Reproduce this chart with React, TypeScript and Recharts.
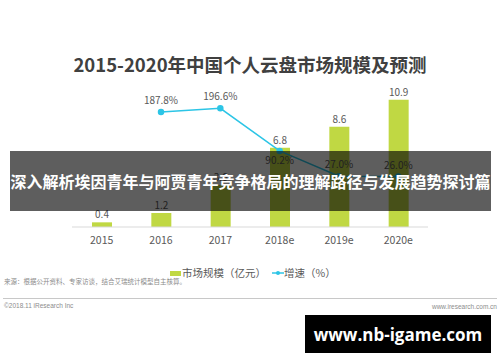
import React from 'react'
import {
  ComposedChart,
  Bar,
  Line,
  XAxis,
  YAxis,
  LabelList,
  Legend,
} from 'recharts'

const years = ['2015', '2016', '2017', '2018e', '2019e', '2020e']
const marketSize = [0.4, 1.2, 3.6, 6.8, 8.6, 10.9]
const growth: (number | null)[] = [null, 187.8, 196.6, 90.2, 27.0, 26.0]

const data = years.map((year, i) => ({
  year,
  size: marketSize[i],
  growth: growth[i],
}))

const FONT = '"Noto Sans CJK SC", "Noto Sans", sans-serif'
const BAR_COLOR = '#c0d843'
const LINE_COLOR = '#2cc5e6'
const TEXT_COLOR = '#595959'

function LegendContent() {
  return (
    <div
      style={{
        display: 'flex',
        alignItems: 'center',
        fontFamily: FONT,
        fontSize: 10.5,
        color: TEXT_COLOR,
        lineHeight: '14px',
        whiteSpace: 'nowrap',
      }}
    >
      <span style={{ display: 'inline-block', width: 11, height: 5, background: BAR_COLOR }} />
      <span style={{ marginLeft: 1 }}>市场规模（亿元）</span>
      <svg width={12} height={6} style={{ marginLeft: 6 }}>
        <line x1={0} y1={3} x2={12} y2={3} stroke={LINE_COLOR} strokeWidth={1.5} />
        <circle cx={6} cy={3} r={2} fill={LINE_COLOR} />
      </svg>
      <span style={{ marginLeft: 0 }}>增速（%）</span>
    </div>
  )
}

// growth labels sit above the points, except 2018e which sits below
function GrowthLabel(props: any) {
  const { x, y, value, index } = props
  if (value == null) return null
  const below = index === 3
  return (
    <text
      x={x}
      y={below ? y + 13 : y - 8}
      textAnchor="middle"
      style={{ fontSize: 10, fill: TEXT_COLOR, fontFamily: FONT }}
    >
      {`${Number(value).toFixed(1)}%`}
    </text>
  )
}

export default function App() {
  return (
    <div
      style={{
        position: 'absolute',
        left: 0,
        top: 0,
        width: 500,
        height: 362,
        background: '#fff',
        overflow: 'hidden',
        fontFamily: FONT,
      }}
    >
      <div
        style={{
          position: 'absolute',
          top: 52,
          left: 0,
          width: 500,
          textAlign: 'center',
          fontSize: 18.5,
          fontWeight: 700,
          color: '#404040',
          lineHeight: '24px',
        }}
      >
        2015-2020年中国个人云盘市场规模及预测
      </div>

      <ComposedChart
        width={500}
        height={362}
        data={data}
        margin={{ top: 87, right: 72, bottom: 101, left: 72 }}
        style={{ position: 'absolute', left: 0, top: 0 }}
      >
        <XAxis
          dataKey="year"
          axisLine={{ stroke: '#d9d9d9' }}
          tickLine={false}
          tick={{ fontSize: 10.5, fill: TEXT_COLOR, fontFamily: FONT }}
          height={20}
          dy={2}
        />
        <YAxis yAxisId="left" domain={[0, 12]} hide />
        <YAxis yAxisId="right" orientation="right" domain={[-100, 250]} hide />
        <Legend
          content={<LegendContent />}
          wrapperStyle={{ position: 'absolute', top: 266, left: 170, width: 'auto' }}
        />
        <Bar
          yAxisId="left"
          dataKey="size"
          fill={BAR_COLOR}
          barSize={20}
          isAnimationActive={false}
        >
          <LabelList
            dataKey="size"
            position="top"
            offset={4}
            style={{ fontSize: 10, fill: TEXT_COLOR, fontFamily: FONT }}
          />
        </Bar>
        <Line
          yAxisId="right"
          dataKey="growth"
          stroke={LINE_COLOR}
          strokeWidth={1.5}
          dot={{ r: 2.5, fill: LINE_COLOR, stroke: LINE_COLOR }}
          isAnimationActive={false}
        >
          <LabelList dataKey="growth" content={<GrowthLabel />} />
        </Line>
      </ComposedChart>

      <div
        style={{
          position: 'absolute',
          left: 4,
          top: 277,
          fontSize: 6.5,
          color: '#8c8c8c',
          lineHeight: '9px',
        }}
      >
        来源：根据公开资料、专家访谈，结合艾瑞统计模型自主核算。
      </div>
      <div
        style={{
          position: 'absolute',
          left: 3,
          top: 298,
          width: 494,
          height: 1,
          background: '#c8c8c8',
        }}
      />
      <div
        style={{
          position: 'absolute',
          left: 4,
          top: 301,
          fontSize: 6.5,
          color: '#8c8c8c',
          lineHeight: '9px',
          fontFamily: '"Liberation Sans", sans-serif',
        }}
      >
        ©2018.11 iResearch Inc
      </div>
      <div
        style={{
          position: 'absolute',
          right: 3,
          top: 302,
          fontSize: 6.5,
          color: '#8c8c8c',
          lineHeight: '9px',
          fontFamily: '"Liberation Sans", sans-serif',
        }}
      >
        www.iresearch.com.cn
      </div>

      <div
        style={{
          position: 'absolute',
          left: 10,
          top: 151,
          width: 481,
          height: 60,
          background: 'rgba(0,0,0,0.63)',
          display: 'flex',
          alignItems: 'center',
          justifyContent: 'center',
          color: '#fff',
          fontSize: 16,
          fontWeight: 700,
          whiteSpace: 'nowrap',
        }}
      >
        深入解析埃因青年与阿贾青年竞争格局的理解路径与发展趋势探讨篇
      </div>

      <div
        style={{
          position: 'absolute',
          left: 305,
          top: 315,
          width: 186,
          height: 38,
          background: '#000',
          display: 'flex',
          alignItems: 'center',
          justifyContent: 'center',
          color: '#fff',
          fontSize: 17,
          fontWeight: 700,
          whiteSpace: 'nowrap',
          fontFamily: '"Open Sans", sans-serif',
        }}
      >
        www.nb-igame.com
      </div>
    </div>
  )
}
